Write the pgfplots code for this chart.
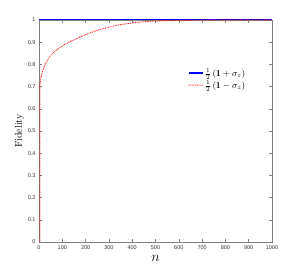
\documentclass[border=0pt]{standalone}
\usepackage{fontspec}
\setsansfont{Liberation Sans}
\usepackage{amsmath}
\usepackage{pgfplots}
\pgfplotsset{compat=1.18}
\tikzset{reddot/.style={color=red, line width=1.1pt, line cap=round, dash pattern=on 0pt off 1.7pt}}
\begin{document}
\begin{tikzpicture}
\begin{axis}[
  scale only axis, width=233pt, height=222pt,
  xmin=0, xmax=1000, ymin=0, ymax=1,
  xtick={0,100,...,1000}, ytick={0,0.1,...,1.0},
  yticklabels={0,0.1,0.2,0.3,0.4,0.5,0.6,0.7,0.8,0.9,1},
  xticklabels={0,100,200,300,400,500,600,700,800,900,1000},
  tick align=inside, tickwidth=3pt,
  axis line style={gray, line width=0.6pt},
  major tick style={gray, line width=0.5pt},
  tick label style={font=\sffamily\fontsize{5.5}{6.5}\selectfont, text=black!80},
  /pgf/number format/assume math mode=true,
  xtick pos=both, ytick pos=both,
  xlabel={$n$}, xlabel style={font=\fontsize{15}{16}\selectfont, yshift=1pt},
  ylabel={Fidelity}, ylabel style={font=\fontsize{10}{12}\selectfont, yshift=-3pt},
  legend style={draw=none, fill=none, at={(0.64,0.734)}, anchor=west, font=\fontsize{9}{10}\selectfont, row sep=1pt, inner sep=0pt,
    nodes={inner sep=1pt}},
  legend cell align=left,
  legend image post style={xscale=0.85},
]
\addplot[blue, line width=1pt, forget plot] coordinates {(0,1) (1000,1)};
\addplot[reddot, forget plot] coordinates {(4,0) (4,0.70)};
\addplot[reddot, smooth, forget plot] coordinates {
(4,0.70) (6,0.727) (10,0.748) (20,0.783) (33,0.812) (50,0.84) (76,0.865) (100,0.883) (133,0.902) (170,0.92) (205,0.936) (250,0.953) (305,0.969) (350,0.979) (404,0.987) (476,0.994) (550,0.997) (650,0.9992) (800,1.0) (1000,1.0)};
\addlegendimage{blue, line width=1.2pt}
\addlegendentry{$\frac{1}{2}\left(\mathbf{1}+\sigma_z\right)$}
\addlegendimage{reddot}
\addlegendentry{$\frac{1}{2}\left(\mathbf{1}-\sigma_z\right)$}
\end{axis}
\pgfresetboundingbox
\path ([xshift=-39pt,yshift=-30pt]current axis.south west) rectangle ([xshift=28pt,yshift=20pt]current axis.north east);
\end{tikzpicture}
\end{document}
